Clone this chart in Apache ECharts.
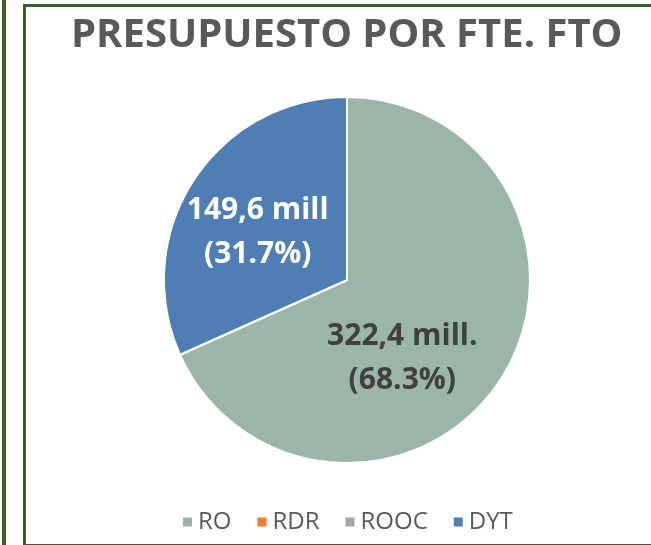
<!DOCTYPE html>
<html style="height: 100%">
<head>
    <meta charset="UTF-8">
    <title>Presupuesto por FTE</title>
</head>
<body style="height: 100%; margin: 0; background: #fff">
<div style="position:absolute; left:2px; top:0; width:4px; height:545px; background:#3f5f2a"></div>
<div style="position:absolute; left:23px; top:4px; width:640px; height:537px; border-left:3px solid #3f5f2a; border-top:3px solid #3f5f2a; border-bottom:3px solid #3f5f2a"></div>
<div id="container" style="position:absolute; left:0; top:0; width:651px; height:545px"></div>
<script src="https://cdn.jsdelivr.net/npm/echarts@6/dist/echarts.min.js"></script>
<script>
    var categories = ['RO', 'RDR', 'ROOC', 'DYT'];
    var values = [322.4, 0, 0, 149.6];
    var valueLabels = ['322,4 mill.', '', '', '149,6 mill'];
    var percentLabels = ['68.3%', '', '', '31.7%'];
    var colors = ['#9bb5a8', '#ed7d31', '#a5a5a5', '#4f7eb5'];

    var seriesData = [];
    for (var i = 0; i < categories.length; i++) {
        var item = {
            name: categories[i],
            value: values[i],
            itemStyle: { color: colors[i] }
        };
        if (i === 0) {
            item.label = { color: '#404040' };
        }
        if (values[i] === 0) {
            item.label = { show: false };
        }
        seriesData.push(item);
    }

    // desplazamiento de las etiquetas como en el original
    var labelShift = { 0: [-24, 27], 3: [-10, 4] };

    var myChart = echarts.init(document.getElementById('container'));
    var option = {
        title: {
            text: 'PRESUPUESTO POR FTE. FTO',
            left: 66,
            top: 11,
            textStyle: {
                fontFamily: 'Open Sans',
                fontWeight: 'bold',
                fontSize: 40,
                color: '#595959'
            }
        },
        legend: {
            bottom: 6,
            left: 176,
            itemWidth: 11,
            itemHeight: 11,
            itemGap: 24,
            icon: 'rect',
            data: categories,
            textStyle: {
                fontFamily: 'Open Sans',
                fontSize: 24,
                color: '#595959'
            }
        },
        series: [
            {
                type: 'pie',
                center: [347, 280],
                radius: 183,
                startAngle: 90,
                clockwise: true,
                avoidLabelOverlap: false,
                data: seriesData,
                itemStyle: {
                    borderColor: '#fff',
                    borderWidth: 2
                },
                label: {
                    position: 'inside',
                    formatter: function (p) {
                        return valueLabels[p.dataIndex] + '\n(' + percentLabels[p.dataIndex] + ')';
                    },
                    fontFamily: 'Open Sans',
                    fontWeight: 'bold',
                    fontSize: 30,
                    lineHeight: 44,
                    color: '#fff'
                },
                labelLayout: function (p) {
                    var s = labelShift[p.dataIndex];
                    return s ? { dx: s[0], dy: s[1] } : {};
                },
                labelLine: { show: false },
                emphasis: { scale: false }
            }
        ]
    };
    myChart.setOption(option);
</script>
</body>
</html>
